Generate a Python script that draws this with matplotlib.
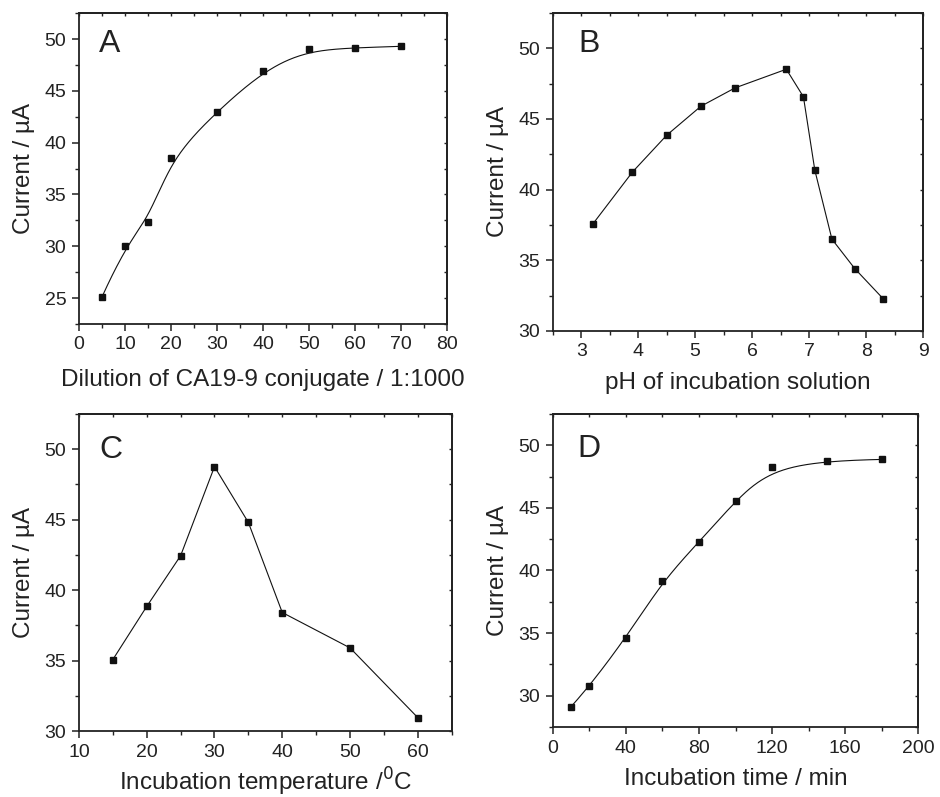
import numpy as np
import matplotlib
matplotlib.use('Agg')
import matplotlib.pyplot as plt
from matplotlib.ticker import MultipleLocator

plt.rcParams['font.family'] = ['Liberation Sans', 'DejaVu Sans']

# Panel A - dilution of conjugate
dilution = [5, 10, 15, 20, 30, 40, 50, 60, 70]
current_a = [25.1, 30.0, 32.3, 38.5, 43.0, 46.9, 49.05, 49.15, 49.3]

# Panel B - pH
ph = [3.2, 3.9, 4.5, 5.1, 5.7, 6.6, 6.9, 7.1, 7.4, 7.8, 8.3]
current_b = [37.55, 41.25, 43.85, 45.9, 47.2, 48.52, 46.57, 41.38, 36.5, 34.42, 32.28]

# Panel C - temperature
temperature = [15, 20, 25, 30, 35, 40, 50, 60]
current_c = [35.07, 38.84, 42.44, 48.76, 44.8, 38.41, 35.9, 30.95]

# Panel D - incubation time
inc_time = [10, 20, 40, 60, 80, 100, 120, 150, 180]
current_d = [29.12, 30.74, 34.58, 39.13, 42.28, 45.57, 48.24, 48.77, 48.87]

INK = '#222222'


def bspline(xs, ys, npts=300):
    # clamped cubic B-spline using the data points as control points
    P = np.column_stack([xs, ys]).astype(float)
    n = len(P)
    k = 3
    inner = np.arange(1, n - k)
    knots = np.concatenate([np.zeros(k + 1), inner, np.full(k + 1, n - k)]).astype(float)
    t = np.linspace(0, n - k, npts)
    t[-1] -= 1e-9
    N = np.zeros((npts, len(knots) - 1))
    for i in range(len(knots) - 1):
        N[:, i] = (knots[i] <= t) & (t < knots[i + 1])
    for d in range(1, k + 1):
        Nn = np.zeros((npts, len(knots) - 1 - d))
        for i in range(len(knots) - 1 - d):
            a = knots[i + d] - knots[i]
            b = knots[i + d + 1] - knots[i + 1]
            term = 0
            if a > 0:
                term = term + (t - knots[i]) / a * N[:, i]
            if b > 0:
                term = term + (knots[i + d + 1] - t) / b * N[:, i + 1]
            Nn[:, i] = term
        N = Nn
    C = N @ P
    return C[:, 0], C[:, 1]


def style(ax, xmaj, xmin, ymaj, ymin, xlabel, xpad=8):
    for s in ax.spines.values():
        s.set_linewidth(1.3)
        s.set_color(INK)
    ax.xaxis.set_major_locator(MultipleLocator(xmaj))
    ax.xaxis.set_minor_locator(MultipleLocator(xmin))
    ax.yaxis.set_major_locator(MultipleLocator(ymaj))
    ax.yaxis.set_minor_locator(MultipleLocator(ymin))
    ax.tick_params(which='major', direction='out', length=5, width=1.1,
                   labelsize=14, pad=4, colors=INK, labelcolor=INK)
    ax.tick_params(which='minor', direction='out', length=3, width=1.0, colors=INK)
    # short inward ticks on the top and right spines
    top = ax.secondary_xaxis('top')
    right = ax.secondary_yaxis('right')
    for sec in (top, right):
        for s in sec.spines.values():
            s.set_linewidth(1.3)
            s.set_color(INK)
        sec.tick_params(which='both', direction='in', length=2.5, width=1.0,
                        colors=INK, labelsize=0)
        sec.tick_params(labeltop=False, labelright=False)
    top.xaxis.set_major_locator(MultipleLocator(xmaj))
    top.xaxis.set_minor_locator(MultipleLocator(xmin))
    right.yaxis.set_major_locator(MultipleLocator(ymaj))
    right.yaxis.set_minor_locator(MultipleLocator(ymin))
    ax.set_ylabel('Current / µA', fontsize=17.5, color=INK, labelpad=7)
    ax.set_xlabel(xlabel, fontsize=17.5, color=INK, labelpad=xpad)


fig = plt.figure(figsize=(9.4, 7.97), dpi=100)
mk = dict(marker='s', markersize=5, color='#111111', mfc='#111111', mec='#111111')

axA = fig.add_axes([0.084, 0.5935, 0.3915, 0.390])
bx, by = bspline(dilution, current_a)
axA.plot(bx, by, color='#111111', lw=0.8)
axA.plot(dilution, current_a, ls='none', **mk)
axA.set_xlim(0, 80)
axA.set_ylim(22.5, 52.5)
style(axA, 10, 5, 5, 2.5, 'Dilution of CA19-9 conjugate / 1:1000', xpad=11)
axA.text(0.054, 0.875, 'A', transform=axA.transAxes, fontsize=23, color=INK)

axB = fig.add_axes([0.588, 0.5847, 0.394, 0.399])
axB.plot(ph, current_b, lw=0.8, **mk)
axB.set_xlim(2.5, 9)
axB.set_ylim(30, 52.5)
style(axB, 1, 0.5, 5, 2.5, 'pH of incubation solution')
axB.text(0.068, 0.877, 'B', transform=axB.transAxes, fontsize=23, color=INK)

axC = fig.add_axes([0.084, 0.0828, 0.3965, 0.3978])
axC.plot(temperature, current_c, lw=0.8, **mk)
axC.set_xlim(10, 65)
axC.set_ylim(30, 52.5)
style(axC, 10, 5, 5, 2.5, 'Incubation temperature /$^{0}$C', xpad=3.5)
axC.text(0.056, 0.861, 'C', transform=axC.transAxes, fontsize=23, color=INK)

axD = fig.add_axes([0.588, 0.0878, 0.389, 0.3928])
dx, dy = bspline(inc_time, current_d)
axD.plot(dx, dy, color='#111111', lw=0.8)
axD.plot(inc_time, current_d, ls='none', **mk)
axD.set_xlim(0, 200)
axD.set_ylim(27.5, 52.5)
style(axD, 40, 20, 5, 2.5, 'Incubation time / min')
axD.text(0.068, 0.862, 'D', transform=axD.transAxes, fontsize=23, color=INK)

fig.savefig('out.png', dpi=100, facecolor='white')
